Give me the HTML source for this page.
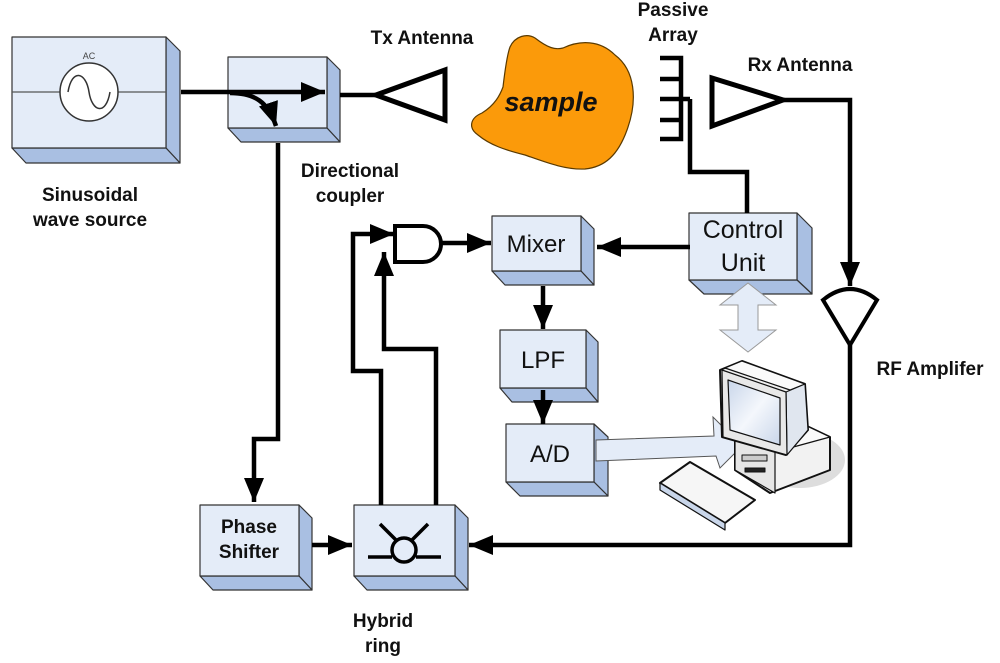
<!DOCTYPE html>
<html><head><meta charset="utf-8"><style>
html,body{margin:0;padding:0;background:#fff}
svg{display:block}
text{font-family:"Liberation Sans",Arial,sans-serif}
.b{font-weight:bold;font-size:19px;fill:#111}
</style></head><body>
<svg width="1000" height="663" viewBox="0 0 1000 663" xmlns="http://www.w3.org/2000/svg">
<defs>
<marker id="ah" markerWidth="10" markerHeight="10" refX="9" refY="5" orient="auto" markerUnits="userSpaceOnUse" viewBox="0 0 10 10"><path d="M0,0 L10,5 L0,10 z" fill="#000"/></marker>
<marker id="a" viewBox="0 0 24 20" refX="24" refY="10" markerWidth="24" markerHeight="20" orient="auto" markerUnits="userSpaceOnUse"><path d="M0,0 L24,10 L0,20 z" fill="#000"/></marker>
<linearGradient id="scr" x1="0" y1="0" x2="1" y2="1"><stop offset="0" stop-color="#c9d6ea"/><stop offset="0.5" stop-color="#f4f7fc"/><stop offset="1" stop-color="#c9d6ea"/></linearGradient>
</defs>
<g stroke="#333" stroke-width="1.2" stroke-linejoin="round">
<!-- source -->
<polygon points="166,37 180,51 180,163 166,148" fill="#a9bfe2"/>
<polygon points="12,148 166,148 180,163 26,163" fill="#a9bfe2"/>
<rect x="12" y="37" width="154" height="111" fill="#e4ecf8"/>
<!-- coupler -->
<polygon points="327,57 340,70 340,142 327,128" fill="#a9bfe2"/>
<polygon points="228,128 327,128 340,142 241,142" fill="#a9bfe2"/>
<rect x="228" y="57" width="99" height="71" fill="#e4ecf8"/>
<!-- mixer -->
<polygon points="581,216 594,229 594,285 581,271" fill="#a9bfe2"/>
<polygon points="492,271 581,271 594,285 505,285" fill="#a9bfe2"/>
<rect x="492" y="216" width="89" height="55" fill="#e4ecf8"/>
<!-- control unit -->
<polygon points="797,213 812,228 812,294 797,280" fill="#a9bfe2"/>
<polygon points="689,280 797,280 812,294 704,294" fill="#a9bfe2"/>
<rect x="689" y="213" width="108" height="67" fill="#e4ecf8"/>
<!-- LPF -->
<polygon points="586,330 598,342 598,402 586,388" fill="#a9bfe2"/>
<polygon points="500,388 586,388 598,402 512,402" fill="#a9bfe2"/>
<rect x="500" y="330" width="86" height="58" fill="#e4ecf8"/>
<!-- A/D -->
<polygon points="594,424 608,437 608,496 594,482" fill="#a9bfe2"/>
<polygon points="506,482 594,482 608,496 520,496" fill="#a9bfe2"/>
<rect x="506" y="424" width="88" height="58" fill="#e4ecf8"/>
<!-- phase shifter -->
<polygon points="299,505 312,518 312,590 299,576" fill="#a9bfe2"/>
<polygon points="200,576 299,576 312,590 213,590" fill="#a9bfe2"/>
<rect x="200" y="505" width="99" height="71" fill="#e4ecf8"/>
<!-- hybrid -->
<polygon points="455,505 468,518 468,590 455,576" fill="#a9bfe2"/>
<polygon points="354,576 455,576 468,590 367,590" fill="#a9bfe2"/>
<rect x="354" y="505" width="101" height="71" fill="#e4ecf8"/>
</g>
<!-- AC source symbol -->
<line x1="12" y1="92" x2="166" y2="92" stroke="#555" stroke-width="1.2"/>
<circle cx="89" cy="92" r="29" fill="#fff" stroke="#333" stroke-width="1.5"/>
<path d="M68,92 C72,68 86,72 89,92 C92,112 106,116 110,92" fill="none" stroke="#333" stroke-width="1.5"/>
<text x="89" y="59" font-size="9" text-anchor="middle" fill="#444">AC</text>

<g stroke="#000" stroke-width="4.5" fill="none" stroke-linejoin="miter">
<line x1="181" y1="92" x2="325" y2="92" marker-end="url(#a)"/>
<path d="M230,93 C255,93 268,102 276,126" marker-end="url(#a)"/>
<line x1="340" y1="95" x2="376" y2="95"/>
<polygon points="376,95 445,70 445,120" stroke-width="5"/>
<polyline points="278,143 278,439 254,439 254,502" marker-end="url(#a)"/>
<polyline points="381,505 381,371 353,371 353,234 394,234" marker-end="url(#a)"/>
<polyline points="436,505 436,349 384,349 384,252" marker-end="url(#a)"/>
<path d="M395,226 L423,226 A18,18 0 0 1 423,262 L395,262 Z" stroke-width="4"/>
<line x1="441" y1="243" x2="491" y2="243" marker-end="url(#a)"/>
<line x1="690" y1="247" x2="597" y2="247" marker-end="url(#a)"/>
<line x1="543" y1="286" x2="543" y2="329" marker-end="url(#a)"/>
<line x1="543" y1="390" x2="543" y2="424" marker-end="url(#a)"/>
<!-- passive array -->
<polyline points="660,58 681,58 681,139 660,139"/>
<line x1="660" y1="79" x2="681" y2="79"/>
<line x1="660" y1="99" x2="690" y2="99"/>
<line x1="660" y1="120" x2="681" y2="120"/>
<polyline points="690,99 690,172 747,172 747,213"/>
<!-- rx antenna -->
<polygon points="712,78 783,100 712,126" stroke-width="5"/>
<polyline points="783,100 850,100 850,286" marker-end="url(#a)"/>
<path d="M823,300 Q850,278 877,300 L850,345 Z" stroke-width="4"/>
<polyline points="850,345 850,545 469,545" marker-end="url(#a)"/>
<line x1="312" y1="545" x2="352" y2="545" marker-end="url(#a)"/>
</g>
<!-- hybrid symbol -->
<g stroke="#000" stroke-width="3.5" fill="none">
<circle cx="404" cy="550" r="12"/>
<line x1="368" y1="557" x2="392" y2="557"/>
<line x1="416" y1="557" x2="441" y2="557"/>
<line x1="396" y1="540" x2="380" y2="524"/>
<line x1="412" y1="540" x2="428" y2="524"/>
</g>
<!-- sample blob -->
<path d="M510,47 C515,36 527,33 535,38 C548,48 555,50 563,48 C580,40 600,40 615,55 C635,70 638,100 627,130 C618,155 605,167 585,169 C565,170 545,162 525,155 C505,150 490,145 478,135 C468,128 470,118 482,113 C495,105 500,95 503,87 C505,70 507,55 510,47 Z" fill="#fb9a0a" stroke="#5a3a00" stroke-width="1.2"/>
<text x="551" y="111" font-size="27" font-weight="bold" font-style="italic" text-anchor="middle" fill="#111">sample</text>
<!-- double arrow -->
<polygon points="748,283 776,305 758,305 758,330 776,330 748,352 720,330 738,330 738,305 720,305" fill="#e4ecf8" stroke="#999" stroke-width="1"/>
<!-- wide arrow -->
<polygon points="596,440 714,436 713,417 742,446 720,468 716,456 596,461" fill="#e4ecf8" stroke="#555" stroke-width="1"/>
<!-- computer -->
<g stroke="#111" stroke-width="2" stroke-linejoin="round">
<ellipse cx="800" cy="460" rx="45" ry="28" fill="#ddd" stroke="none"/>
<polygon points="735,430 790,418 830,437 830,470 770,493 735,470" fill="#f2f2f2"/>
<polygon points="735,430 790,418 830,437 775,452" fill="#fafafa" stroke-width="1.2"/>
<polygon points="735,430 775,452 775,493 735,470" fill="#e6e6e6" stroke-width="1.2"/>
<rect x="742" y="455" width="25" height="6" fill="#ccc" stroke-width="1"/>
<rect x="745" y="468" width="20" height="4" fill="#222" stroke-width="1"/>
<polygon points="720,370 742,361 805,384 808,430 786,455 722,437" fill="#f0f0f0"/>
<polygon points="742,361 805,384 790,390 725,368" fill="#fafafa" stroke-width="1.2"/>
<polygon points="786,392 805,384 808,430 787,455" fill="#e0e6ef" stroke-width="1.2"/>
<polygon points="722,370 786,392 787,455 723,437" fill="#e8e8e8" stroke-width="1.2"/>
<polygon points="728,380 780,398 780,445 730,430" fill="url(#scr)" stroke-width="1.2"/>
<polygon points="660,483 690,462 755,500 725,523" fill="#f6f6f6"/>
<polygon points="660,483 725,523 725,530 660,490" fill="#c9d6ea" stroke-width="1.2"/>
</g>
<!-- labels -->
<text x="422" y="44" class="b" text-anchor="middle">Tx Antenna</text>
<text x="673" y="16" class="b" text-anchor="middle">Passive</text>
<text x="673" y="41" class="b" text-anchor="middle">Array</text>
<text x="800" y="71" class="b" text-anchor="middle">Rx Antenna</text>
<text x="90" y="201" class="b" text-anchor="middle">Sinusoidal</text>
<text x="90" y="226" class="b" text-anchor="middle">wave source</text>
<text x="350" y="177" class="b" text-anchor="middle">Directional</text>
<text x="350" y="202" class="b" text-anchor="middle">coupler</text>
<text x="930" y="375" class="b" text-anchor="middle">RF Amplifer</text>
<text x="383" y="627" class="b" text-anchor="middle">Hybrid</text>
<text x="383" y="652" class="b" text-anchor="middle">ring</text>
<text x="249" y="533" class="b" text-anchor="middle">Phase</text>
<text x="249" y="558" class="b" text-anchor="middle">Shifter</text>
<text x="536" y="252" font-size="24" text-anchor="middle" fill="#111">Mixer</text>
<text x="743" y="238" font-size="25" text-anchor="middle" fill="#111">Control</text>
<text x="743" y="271" font-size="25" text-anchor="middle" fill="#111">Unit</text>
<text x="543" y="368" font-size="24" text-anchor="middle" fill="#111">LPF</text>
<text x="550" y="462" font-size="24" text-anchor="middle" fill="#111">A/D</text>
</svg>
</body></html>
